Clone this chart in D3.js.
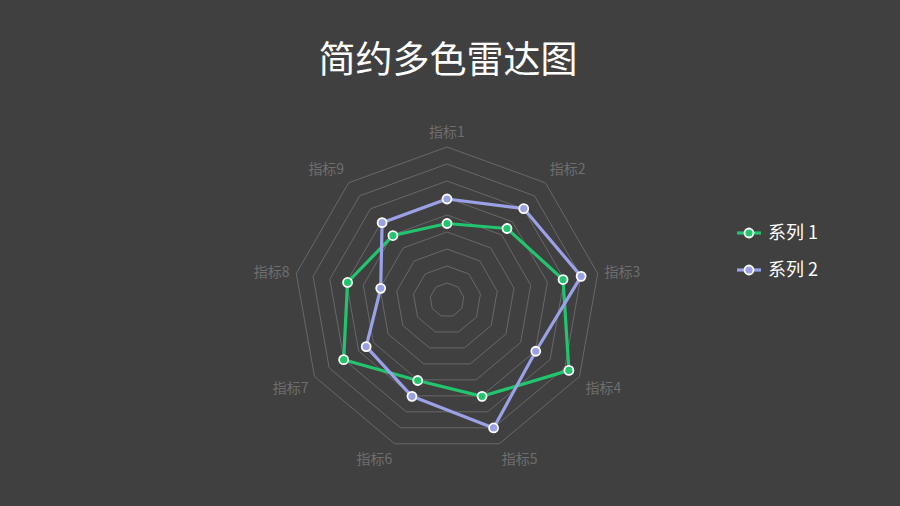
<!DOCTYPE html>
<html>
<head>
<meta charset="utf-8">
<script src="https://cdn.jsdelivr.net/npm/d3@7/dist/d3.min.js"></script>
<style>
  html, body { margin: 0; padding: 0; background: #404040; }
  svg { display: block; font-family: "Noto Sans CJK SC", "Noto Sans", sans-serif; }
</style>
</head>
<body>
<div class="chart"></div>
<script>
const indicators = ["指标1", "指标2", "指标3", "指标4", "指标5", "指标6", "指标7", "指标8", "指标9"];
const seriesNames = ["系列 1", "系列 2"];
const series1 = [50, 61, 77, 92, 67, 56, 78, 66, 55];
const series2 = [66, 78, 89, 67, 89, 67, 61, 44, 66];
const maxValue = 100;
const ringCount = 9;

const width = 900;
const height = 506;
const cx = 447, cy = 300, radius = 153;
const colors = ["#22c56d", "#9ba1e6"];

const svg = d3.select(".chart")
    .append("svg")
    .attr("width", width)
    .attr("height", height);

svg.append("rect")
    .attr("width", width)
    .attr("height", height)
    .attr("fill", "#404040");

svg.append("text")
    .attr("x", 448)
    .attr("y", 73)
    .attr("text-anchor", "middle")
    .attr("fill", "#ffffff")
    .attr("font-size", 37)
    .text("简约多色雷达图");

const g = svg.append("g").attr("transform", `translate(${cx},${cy})`);

const angle = d3.scalePoint()
    .domain(indicators)
    .range([0, 2 * Math.PI * (indicators.length - 1) / indicators.length]);
const r = d3.scaleLinear().domain([0, maxValue]).range([0, radius]);

// rings
const ringLevels = d3.range(1, ringCount + 1).map(i => maxValue * i / ringCount);
const ringLine = d3.lineRadial()
    .angle(d => angle(d))
    .curve(d3.curveLinearClosed);

g.selectAll(".ring")
    .data(ringLevels)
    .enter()
    .append("path")
    .attr("class", "ring")
    .attr("d", lvl => ringLine.radius(() => r(lvl))(indicators))
    .attr("fill", "none")
    .attr("stroke", "#686868")
    .attr("stroke-width", 1);

// indicator labels
const labelR = radius + 7;
g.selectAll(".label")
    .data(indicators)
    .enter()
    .append("text")
    .attr("class", "label")
    .each(function (d) {
        const a = angle(d);
        const s = Math.sin(a), c = Math.cos(a);
        d3.select(this)
            .attr("x", labelR * s)
            .attr("y", -labelR * c)
            .attr("text-anchor", Math.abs(s) < 0.1 ? "middle" : (s > 0 ? "start" : "end"))
            .attr("dy", c > 0.3 ? "-0.25em" : (c < -0.3 ? "0.95em" : "0.35em"));
    })
    .attr("fill", "#6e6e6e")
    .attr("font-size", 14)
    .text(d => d);

// series
const data = [series1, series2];
const seriesLine = d3.lineRadial()
    .angle((d, i) => angle(indicators[i]))
    .radius(d => r(d))
    .curve(d3.curveLinearClosed);

data.forEach((vals, si) => {
    const sg = g.append("g");
    sg.append("path")
        .attr("d", seriesLine(vals))
        .attr("fill", "none")
        .attr("stroke", colors[si])
        .attr("stroke-width", 3.2)
        .attr("stroke-linejoin", "round");
    sg.selectAll("circle")
        .data(vals)
        .enter()
        .append("circle")
        .attr("cx", (d, i) => r(d) * Math.sin(angle(indicators[i])))
        .attr("cy", (d, i) => -r(d) * Math.cos(angle(indicators[i])))
        .attr("r", 4.5)
        .attr("fill", colors[si])
        .attr("stroke", "#ffffff")
        .attr("stroke-width", 1.8);
});

// legend
const legend = svg.append("g").attr("transform", "translate(737,233)");
seriesNames.forEach((name, i) => {
    const lg = legend.append("g").attr("transform", `translate(0,${i * 37})`);
    lg.append("line")
        .attr("x1", 0).attr("x2", 24)
        .attr("stroke", colors[i])
        .attr("stroke-width", 3.2);
    lg.append("circle")
        .attr("cx", 12)
        .attr("r", 4.5)
        .attr("fill", colors[i])
        .attr("stroke", "#ffffff")
        .attr("stroke-width", 1.8);
    lg.append("text")
        .attr("x", 31)
        .attr("dy", "0.35em")
        .attr("fill", "#ffffff")
        .attr("font-size", 18)
        .text(name);
});
</script>
</body>
</html>
